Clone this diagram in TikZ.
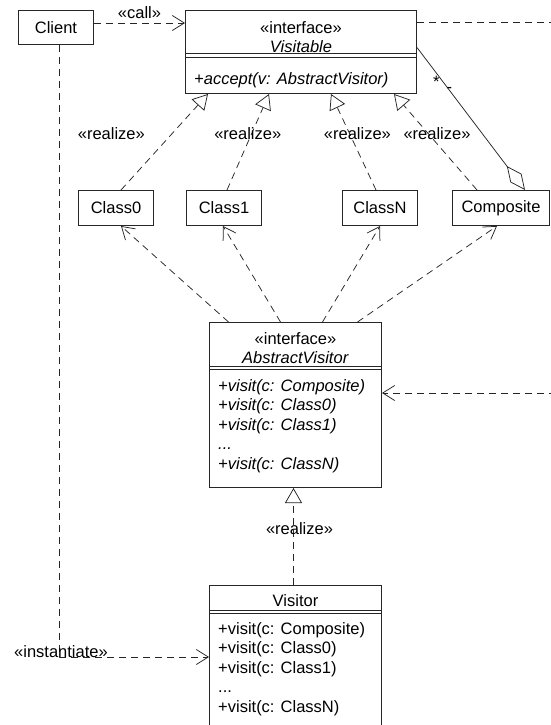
\documentclass[tikz,border=0pt]{standalone}
\usepackage{fontspec}
\setmainfont{Liberation Sans}
\usetikzlibrary{arrows.meta,positioning}

\begin{document}
\begin{tikzpicture}[x = 1pt, y = -1pt,
  every node/.style = {font = \fontsize{16.5}{19.6}\selectfont, text = black},
  ital/.style = {font = \fontsize{16.5}{19.6}\selectfont\itshape},
  box/.style = {draw = black!85, line width = 1pt, shape = rectangle, anchor = north west, inner sep = 0pt},
  sep/.style = {draw = black!85, line width = 0.9pt},
  lbl/.style = {inner sep = 0pt},
  assoc/.style = {draw = black!85, line width = 0.75pt, dash pattern = on 7pt off 5pt},
  dep/.style = {assoc, -{Straight Barb[length = 12pt, width = 15pt]}},
  real/.style = {assoc, -{Triangle[open, length = 15pt, width = 17pt]}},
  agg/.style = {draw = black!85, line width = 0.75pt, -{Diamond[open, length = 30pt, width = 14pt]}}]
\useasboundingbox (0,0) rectangle (551,725);

\node[box, minimum width = 75pt, minimum height = 34pt] (client) at (18,10) {Client};

\node[box, minimum width = 231pt, minimum height = 83pt] (vis) at (185,10) {};
\node[lbl, anchor = north, align = center] (visHead) at ([yshift = -11pt]vis.north) {«interface»\\\textit{Visitable}};
\draw[sep] ([yshift = -43.5pt]vis.north west) -- ([yshift = -43.5pt]vis.north east)
           ([yshift = -47pt]vis.north west) -- ([yshift = -47pt]vis.north east);
\node[ital, lbl, anchor = north west] (visOps) at ([xshift = 9pt, yshift = -62pt]vis.north west) {+accept(v: AbstractVisitor)};

\node[box, minimum width = 75pt, minimum height = 35pt] (c0) at (78,190) {Class0};
\node[box, minimum width = 75pt, minimum height = 35pt] (c1) at (186,190) {Class1};
\node[box, minimum width = 75pt, minimum height = 35pt] (cN) at (342,190) {ClassN};
\node[box, minimum width = 97pt, minimum height = 35pt] (comp) at (452,190) {Composite};

\node[box, minimum width = 172pt, minimum height = 165pt] (av) at (209,322) {};
\node[lbl, anchor = north, align = center] (avHead) at ([yshift = -10pt]av.north) {«interface»\\\textit{AbstractVisitor}};
\draw[sep] ([yshift = -44pt]av.north west) -- ([yshift = -44pt]av.north east)
           ([yshift = -47pt]av.north west) -- ([yshift = -47pt]av.north east);
\node[ital, lbl, anchor = north west, align = left] (avOps) at ([xshift = 9pt, yshift = -57pt]av.north west)
  {+visit(c: Composite)\\+visit(c: Class0)\\+visit(c: Class1)\\...\\+visit(c: ClassN)};

\node[box, minimum width = 172pt, minimum height = 160pt] (vtor) at (209,585) {};
\node[lbl, anchor = north] (vtorHead) at ([yshift = -9pt]vtor.north) {Visitor};
\draw[sep] ([yshift = -25pt]vtor.north west) -- ([yshift = -25pt]vtor.north east)
           ([yshift = -28pt]vtor.north west) -- ([yshift = -28pt]vtor.north east);
\node[lbl, anchor = north west, align = left] (vtorOps) at ([xshift = 9pt, yshift = -37pt]vtor.north west)
  {+visit(c: Composite)\\+visit(c: Class0)\\+visit(c: Class1)\\...\\+visit(c: ClassN)};

\coordinate (edgeTop) at (556,22);
\coordinate (edgeMid) at (556,393);

\draw[dep] ([yshift = 4.5pt]client.east) -- ([yshift = 4.5pt]client.east -| vis.west)
  node[midway, above, lbl, yshift = 4pt] {«call»};
\draw[assoc] (edgeTop -| vis.east) -- (edgeTop);
\draw[dep] ([xshift = 3pt]client.south) |- ([yshift = -72pt]vtor.north west)
  node[pos = 0.5, anchor = base, lbl, xshift = 2pt] {«instantiate»};

\draw[real] ([xshift = 5pt]c0.north) -- ([xshift = -93pt]vis.south) node[pos = 0.59, lbl, xshift = -61pt] {«realize»};
\draw[real] ([xshift = 3pt]c1.north) -- ([xshift = -32pt]vis.south) node[pos = 0.59, lbl, xshift = -4pt] {«realize»};
\draw[real] ([xshift = -4pt]cN.north) -- ([xshift = 30pt]vis.south) node[pos = 0.59, lbl, xshift = 8pt] {«realize»};
\draw[real] ([xshift = -24pt]comp.north) -- ([xshift = 93pt]vis.south) node[pos = 0.59, lbl, xshift = 9pt] {«realize»};

\draw[agg] ([yshift = 4.5pt]vis.east) -- ([xshift = 24pt]comp.north)
  node[pos = 0.24, left = 3pt, lbl] {*} node[pos = 0.3, lbl] {-};

\draw[dep] ([xshift = -67pt]av.north) -- ([xshift = 5pt]c0.south);
\draw[dep] ([xshift = -15pt]av.north) -- ([xshift = -1pt]c1.south);
\draw[dep] ([xshift = 27pt]av.north) -- (cN.south);
\draw[dep] ([xshift = 62pt]av.north) -- ([xshift = -4pt]comp.south);
\draw[dep] (edgeMid) -- (edgeMid -| av.east);

\draw[real] ([xshift = -2pt]vtor.north) -- ([xshift = -2pt]av.south) node[pos = 0.58, lbl, xshift = 6pt] {«realize»};
\end{tikzpicture}
\end{document}
